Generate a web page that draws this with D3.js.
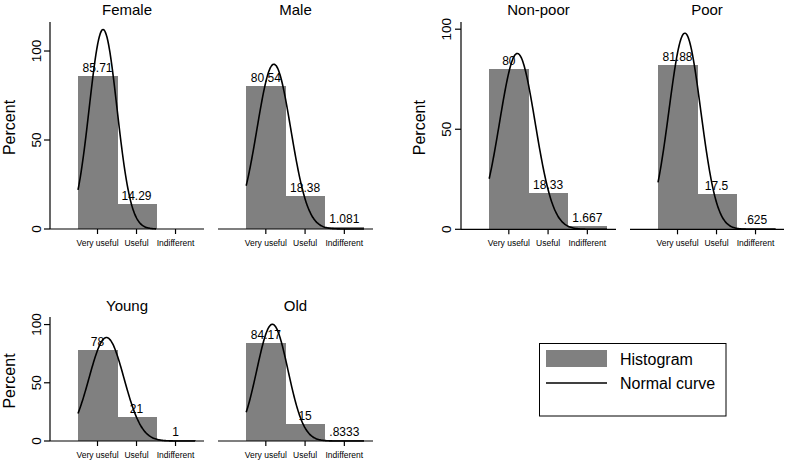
<!DOCTYPE html>
<html>
<head>
<meta charset="utf-8">
<script src="https://cdn.jsdelivr.net/npm/d3@7"></script>
<style>
  body { margin: 0; background: #fff; }
  text { font-family: "Liberation Sans", Arial, sans-serif; fill: #000; }
</style>
</head>
<body>
<script>
// categories and values
var categories = ["Very useful", "Useful", "Indifferent"];
var panelTitles = ["Female", "Male", "Non-poor", "Poor", "Young", "Old"];

var femaleValues = [85.71, 14.29, 0];
var maleValues = [80.54, 18.38, 1.081];
var nonpoorValues = [80, 18.33, 1.667];
var poorValues = [81.88, 17.5, 0.625];
var youngValues = [78, 21, 1];
var oldValues = [84.17, 15, 0.8333];

// normal curve parameters (estimated from the drawn curves)
var curveMeans = [1.143, 1.205, 1.217, 1.188, 1.23, 1.167];
var curveSds = [0.356, 0.431, 0.454, 0.407, 0.449, 0.398];
var curveEnds = [2.5, 3.5, 3.5, 3.5, 3.5, 3.5];

var yTicks = [0, 50, 100];

var allValues = [femaleValues, maleValues, nonpoorValues, poorValues, youngValues, oldValues];

var svgWidth = 785;
var svgHeight = 460;
var barColor = "#808080";

var svg = d3.select("body").append("svg")
    .attr("width", svgWidth)
    .attr("height", svgHeight);

// layout of the three combined graphs
var groups = [
    {panels: [0, 1], yTop: 22, yBottom: 229, yMax: 116.3, axes: [[50, 204], [218, 373]], titleY: 15, labelX: 15, tickLabelX: 41},
    {panels: [2, 3], yTop: 22, yBottom: 229.3, yMax: 103.6, axes: [[461, 616], [630, 784]], titleY: 15, labelX: 425, tickLabelX: 451},
    {panels: [4, 5], yTop: 317, yBottom: 441, yMax: 106.5, axes: [[50, 204], [218, 373]], titleY: 311, labelX: 15, tickLabelX: 41}
];

groups.forEach(function(g) {
    var yScale = d3.scaleLinear()
        .domain([0, g.yMax])
        .range([g.yBottom, g.yTop]);

    // y axis on the left panel only
    var yAxisX = g.axes[0][0];
    var yAxis = svg.append("g");
    yAxis.append("line")
        .attr("x1", yAxisX).attr("x2", yAxisX)
        .attr("y1", g.yTop).attr("y2", g.yBottom)
        .attr("stroke", "#000").attr("stroke-width", 1.2);
    yAxis.selectAll(".tick")
        .data(yTicks)
        .join("line")
        .attr("x1", yAxisX - 6).attr("x2", yAxisX)
        .attr("y1", d => yScale(d)).attr("y2", d => yScale(d))
        .attr("stroke", "#000").attr("stroke-width", 1.2);
    yAxis.selectAll("text")
        .data(yTicks)
        .join("text")
        .attr("transform", d => `translate(${g.tickLabelX}, ${yScale(d)}) rotate(-90)`)
        .attr("text-anchor", "middle")
        .style("font-size", "13.5px")
        .text(d => d);

    svg.append("text")
        .attr("transform", `translate(${g.labelX}, ${(g.yTop + g.yBottom) / 2 + 2}) rotate(-90)`)
        .attr("text-anchor", "middle")
        .style("font-size", "16px")
        .text("Percent");

    g.panels.forEach(function(p, i) {
        var range = g.axes[i];
        var xScale = d3.scaleLinear()
            .domain([-0.218, 3.73])
            .range(range);
        var values = allValues[p];
        var barW = xScale(1.5) - xScale(0.5);

        var panel = svg.append("g");

        // bars
        panel.selectAll("rect")
            .data(values.map((v, k) => ({x: k + 1, v: v})).filter(d => d.v > 0))
            .join("rect")
            .attr("x", d => xScale(d.x - 0.5))
            .attr("y", d => yScale(d.v))
            .attr("width", barW + 0.5)
            .attr("height", d => yScale(0) - yScale(d.v))
            .attr("fill", barColor)
            .attr("shape-rendering", "crispEdges");

        // bar labels
        panel.selectAll(".barlabel")
            .data(values.map((v, k) => ({x: k + 1, v: v})).filter(d => d.v > 0))
            .join("text")
            .attr("class", "barlabel")
            .attr("x", d => xScale(d.x))
            .attr("y", d => yScale(d.v) - 4)
            .attr("text-anchor", "middle")
            .style("font-size", "12px")
            .text(d => String(d.v).replace(/^0\./, "."));

        // normal curve
        var mu = curveMeans[p], sd = curveSds[p];
        var xs = d3.range(0.5, curveEnds[p] + 0.001, 0.02);
        var pts = xs.map(x => [x, 100 * Math.exp(-0.5 * Math.pow((x - mu) / sd, 2)) / (sd * Math.sqrt(2 * Math.PI))]);
        panel.append("path")
            .datum(pts)
            .attr("fill", "none")
            .attr("stroke", "#000")
            .attr("stroke-width", 1.6)
            .attr("d", d3.line().x(d => xScale(d[0])).y(d => yScale(d[1])).curve(d3.curveMonotoneX));

        // x axis
        panel.append("line")
            .attr("x1", range[0]).attr("x2", range[1])
            .attr("y1", g.yBottom).attr("y2", g.yBottom)
            .attr("stroke", "#000").attr("stroke-width", 1.2);
        panel.selectAll(".xtick")
            .data(categories)
            .join("line")
            .attr("class", "xtick")
            .attr("x1", (d, k) => xScale(k + 1)).attr("x2", (d, k) => xScale(k + 1))
            .attr("y1", g.yBottom).attr("y2", g.yBottom + 5)
            .attr("stroke", "#000").attr("stroke-width", 1.2);
        panel.selectAll(".xlabel")
            .data(categories)
            .join("text")
            .attr("class", "xlabel")
            .attr("x", (d, k) => xScale(k + 1))
            .attr("y", g.yBottom + 17)
            .attr("text-anchor", "middle")
            .style("font-size", "8.5px")
            .text(d => d);

        // title
        panel.append("text")
            .attr("x", (range[0] + range[1]) / 2)
            .attr("y", g.titleY)
            .attr("text-anchor", "middle")
            .style("font-size", "15px")
            .text(panelTitles[p]);
    });
});

// legend
var legend = svg.append("g");
legend.append("rect")
    .attr("x", 539.5).attr("y", 343.5)
    .attr("width", 186.5).attr("height", 72.5)
    .attr("fill", "none").attr("stroke", "#000").attr("stroke-width", 1);
legend.append("rect")
    .attr("x", 546).attr("y", 350)
    .attr("width", 61).attr("height", 17)
    .attr("fill", barColor);
legend.append("line")
    .attr("x1", 546).attr("x2", 607)
    .attr("y1", 383).attr("y2", 383)
    .attr("stroke", "#000").attr("stroke-width", 1.6);
legend.append("text")
    .attr("x", 620).attr("y", 365)
    .style("font-size", "16px")
    .text("Histogram");
legend.append("text")
    .attr("x", 620).attr("y", 389)
    .style("font-size", "16px")
    .text("Normal curve");
</script>
</body>
</html>
